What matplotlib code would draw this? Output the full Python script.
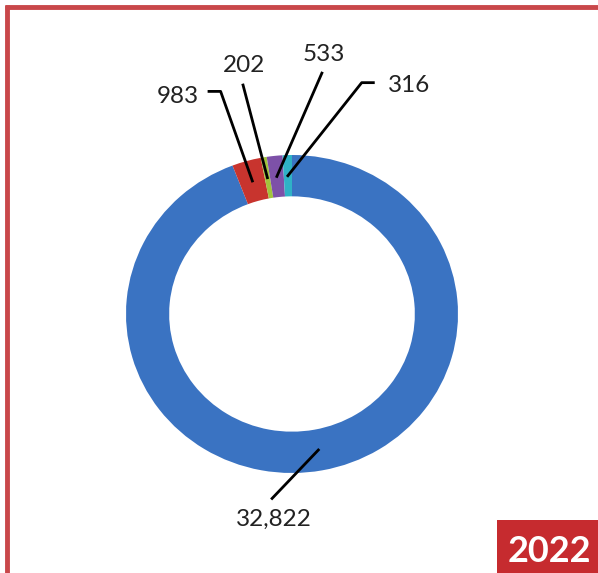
import matplotlib.pyplot as plt
import numpy as np
from matplotlib.lines import Line2D
from matplotlib.patches import Rectangle

# doughnut values, clockwise from 12 o'clock
values = [32822, 983, 202, 533, 316]
labels = ["32,822", "983", "202", "533", "316"]
colors = ["#3a73c2", "#c8342e", "#a2c43c", "#7d51a8", "#2fb2c6"]
year = "2022"

# label text position and leader start (data coords), optional elbow
label_pos = [(-0.11, -1.29), (-0.69, 1.37), (-0.29, 1.565), (0.19, 1.63), (0.705, 1.435)]
leader_start = [(-0.12, -1.16), (-0.43, 1.40), (-0.295, 1.44), (0.18, 1.515), (0.42, 1.455)]
leader_elbow = [None, (-0.50, 1.40), None, None, (0.49, 1.455)]

W, H = 598, 573
fig = plt.figure(figsize=(W / 100, H / 100), dpi=100)
fig.patch.set_facecolor("white")

# ring is slightly wider than tall
cx, cy, rx, ry = 292, 314, 166, 159
ax = fig.add_axes([(cx - rx) / W, (H - cy - ry) / H, 2 * rx / W, 2 * ry / H])
wedges, _ = ax.pie(values, colors=colors, startangle=90, counterclock=False,
                   radius=1.0, wedgeprops=dict(width=0.26, linewidth=0))
ax.set_aspect("auto")
ax.set_xlim(-1, 1)
ax.set_ylim(-1, 1)
ax.axis("off")

font = "Lato"
for w, lab, tp, st, el in zip(wedges, labels, label_pos, leader_start, leader_elbow):
    mid = np.deg2rad((w.theta1 + w.theta2) / 2)
    r = 0.87
    end = (r * np.cos(mid), r * np.sin(mid))
    pts = [el, st, end] if el is not None else [st, end]
    xs, ys = zip(*pts)
    ax.add_line(Line2D(xs, ys, color="black", lw=2.0, clip_on=False))
    ax.text(tp[0], tp[1], lab, ha="center", va="center", fontsize=17.5,
            family=font, color="#222222", clip_on=False)

# red frame along left and top
fc = "#c9474a"
fig.add_artist(Line2D([6.5 / W, 6.5 / W], [0, 1 - 5 / H], color=fc, lw=3.5,
                      transform=fig.transFigure, solid_capstyle="butt"))
fig.add_artist(Line2D([4.5 / W, 1], [1 - 7 / H, 1 - 7 / H], color=fc, lw=3.5,
                      transform=fig.transFigure, solid_capstyle="butt"))

# year tag in the corner
fig.add_artist(Rectangle((497 / W, 0), 1 - 497 / W, 53 / H, facecolor="#c62b2f",
                         edgecolor="none", transform=fig.transFigure))
fig.text((497 + 598) / 2 / W + 2 / W, 22 / H, year, ha="center", va="center",
         fontsize=26, fontweight="bold", family=font, color="white")

plt.savefig("out.png", dpi=100)
